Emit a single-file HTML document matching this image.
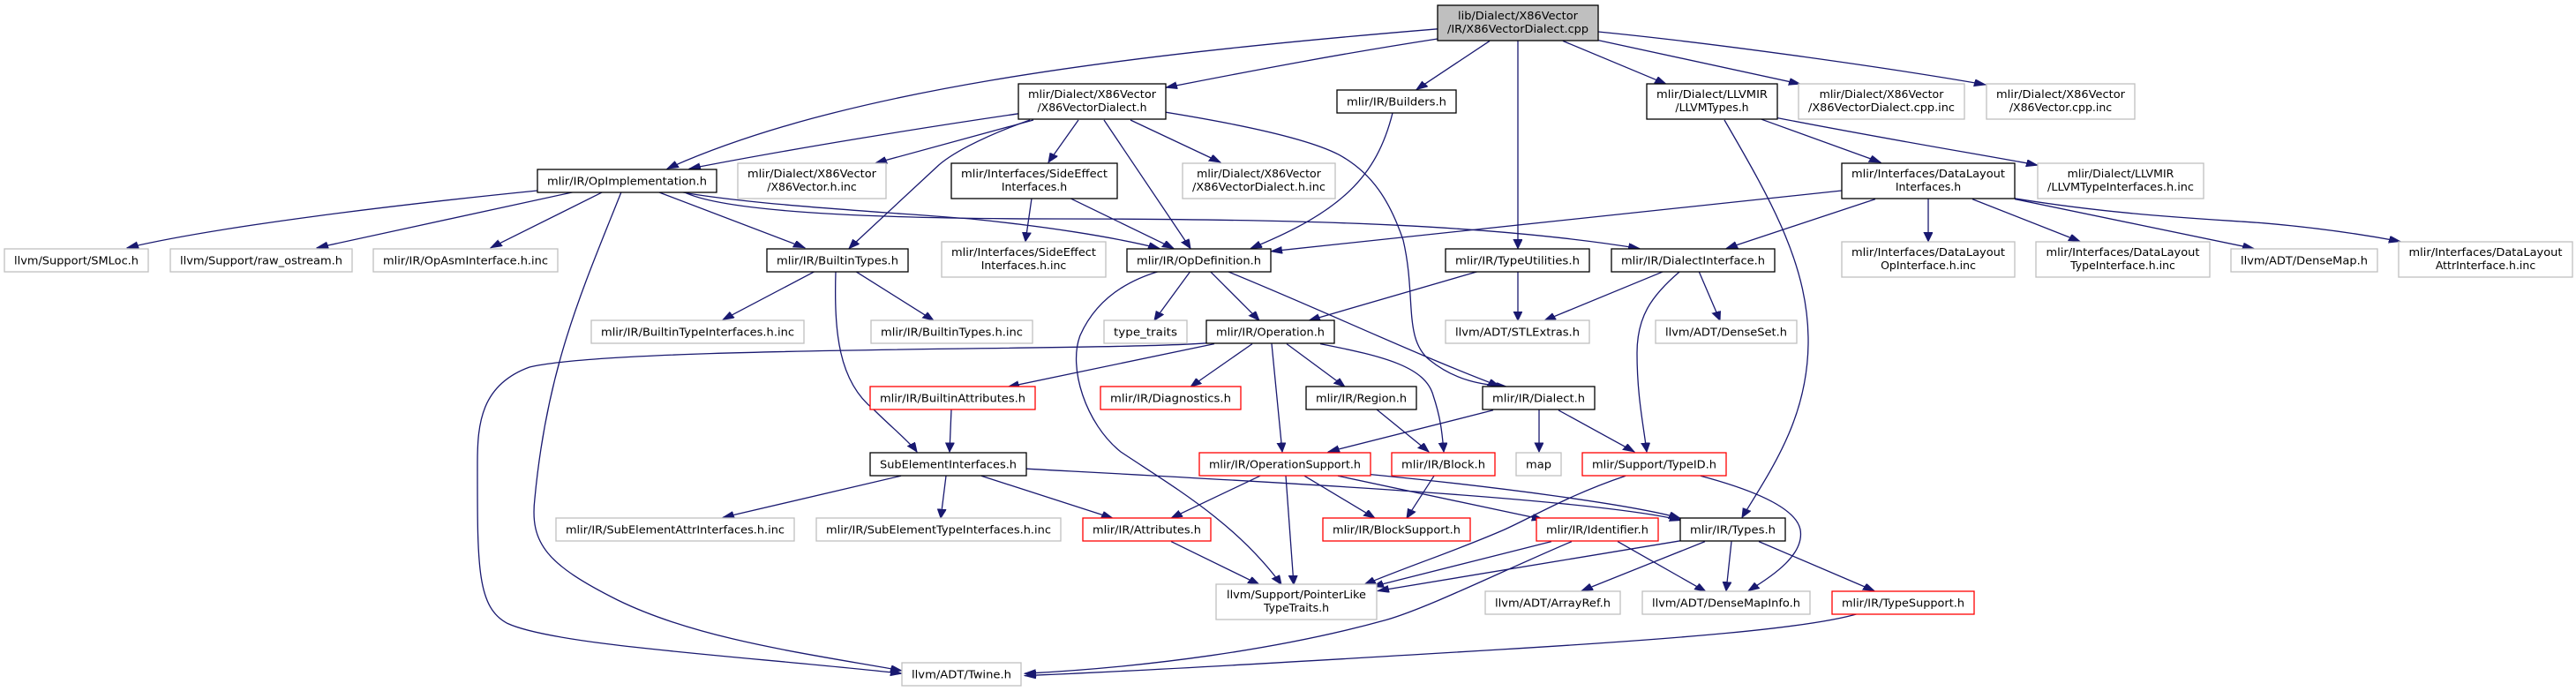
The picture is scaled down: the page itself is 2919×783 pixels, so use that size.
<!DOCTYPE html>
<html><head><meta charset="utf-8"><style>
html,body{margin:0;padding:0;background:#fff;overflow:hidden;}
svg{display:block;}
text{font-family:"DejaVu Sans","Liberation Sans",sans-serif;font-size:12.5px;fill:#000;text-anchor:middle;}
.e path{fill:none;stroke:#191970;stroke-width:1.3;marker-end:url(#a);vector-effect:non-scaling-stroke;}
.k{fill:#fff;stroke:#000;stroke-width:1.3;}
.g{fill:#fff;stroke:#bfbfbf;stroke-width:1.3;}
.r{fill:#fff;stroke:#ff0000;stroke-width:1.3;}
</style></head><body>
<svg width="2919" height="783" viewBox="0 0 2919 783" xmlns="http://www.w3.org/2000/svg">
<defs><marker id="a" markerUnits="userSpaceOnUse" markerWidth="14" markerHeight="12" refX="13" refY="5" orient="auto"><path d="M0,0 L13,5 L0,10 z" fill="#191970" stroke="#191970"/></marker></defs>
<g class="e" transform="scale(1,0.8)">
<path d="M1629,41 C1250,80 950,130 756,239"/>
<path d="M1629,55 C1500,80 1400,105 1321,124"/>
<path d="M1688,58 L1605,127"/>
<path d="M1720,57 L1720,352"/>
<path d="M1771,58 L1888,119"/>
<path d="M1811,57 L2040,119"/>
<path d="M1811,45 C1950,62 2150,98 2250,120"/>
<path d="M1154,161 C1050,180 900,210 781,239"/>
<path d="M1171,170 L992,231"/>
<path d="M1167,170 C1110,195 1075,220 1061,237 C1020,285 985,325 962,352"/>
<path d="M1222,170 L1188,230"/>
<path d="M1251,170 L1349,352"/>
<path d="M1281,170 L1383,230"/>
<path d="M1321,159 C1400,175 1480,195 1517,219 C1555,245 1575,285 1590,340 C1605,420 1590,480 1620,510 C1650,540 1680,545 1708,548"/>
<path d="M609,270 C450,290 250,320 144,351"/>
<path d="M650,272 L359,351"/>
<path d="M683,272 L556,351"/>
<path d="M704,272 C660,410 620,520 606,706 C600,770 620,800 700,850 C790,905 910,925 1022,950"/>
<path d="M746,272 L912,351"/>
<path d="M772,272 C850,290 1000,300 1100,310 C1180,320 1260,335 1314,352"/>
<path d="M775,272 C820,300 980,310 1200,310 C1500,310 1700,320 1858,352"/>
<path d="M924,384 L819,453"/>
<path d="M969,384 L1058,454"/>
<path d="M947,384 C945,470 950,540 990,580 C1010,605 1030,625 1039,640"/>
<path d="M1169,281 L1162,342"/>
<path d="M1213,281 L1330,352"/>
<path d="M1578,160 C1560,250 1520,300 1417,352"/>
<path d="M1996,169 L2131,230"/>
<path d="M2014,167 C2150,200 2250,220 2309,234"/>
<path d="M1954,170 C2010,290 2050,380 2049,487 C2048,590 2010,660 1974,733"/>
<path d="M2087,270 L1440,356"/>
<path d="M2125,282 L1956,352"/>
<path d="M2185,281 L2185,342"/>
<path d="M2235,282 L2357,342"/>
<path d="M2283,282 L2554,352"/>
<path d="M2283,281 C2400,305 2500,310 2565,316 C2640,324 2690,335 2720,342"/>
<path d="M1349,384 L1308,454"/>
<path d="M1371,384 L1427,454"/>
<path d="M1390,384 C1500,440 1600,500 1699,547"/>
<path d="M1314,384 C1270,400 1240,430 1224,475 C1210,520 1230,600 1270,640 C1330,690 1400,740 1452,828"/>
<path d="M1676,384 L1483,454"/>
<path d="M1720,384 L1720,454"/>
<path d="M1886,384 L1750,454"/>
<path d="M1925,384 L1949,454"/>
<path d="M1904,384 C1870,420 1855,450 1855,500 C1855,560 1862,600 1866,640"/>
<path d="M1367,486 C1250,497 700,490 600,520 C545,545 541,600 541,656 C541,800 540,860 575,883 C630,915 850,930 1022,954"/>
<path d="M1376,487 L1142,548"/>
<path d="M1419,487 L1349,548"/>
<path d="M1458,487 L1524,548"/>
<path d="M1496,487 C1570,505 1615,520 1624,560 C1632,590 1634,610 1636,640"/>
<path d="M1441,487 L1453,640"/>
<path d="M1078,580 L1076,640"/>
<path d="M1560,580 L1619,640"/>
<path d="M1692,581 L1505,640"/>
<path d="M1744,580 L1744,640"/>
<path d="M1766,581 L1852,640"/>
<path d="M1021,674 L819,733"/>
<path d="M1072,674 L1066,734"/>
<path d="M1112,674 L1261,734"/>
<path d="M1163,664 C1400,680 1800,705 1905,737"/>
<path d="M1428,674 L1327,734"/>
<path d="M1457,674 L1466,828"/>
<path d="M1478,674 L1558,734"/>
<path d="M1516,674 L1749,736"/>
<path d="M1553,672 C1700,690 1850,715 1904,734"/>
<path d="M1625,674 L1594,734"/>
<path d="M1842,674 C1780,700 1740,730 1705,750 C1650,780 1600,800 1546,828"/>
<path d="M1927,674 C1990,695 2035,720 2040,750 C2045,785 2010,815 1981,837"/>
<path d="M1327,767 L1427,828"/>
<path d="M1758,767 L1555,831"/>
<path d="M1781,767 C1700,810 1620,860 1571,878 C1450,920 1300,945 1161,954"/>
<path d="M1833,767 L1933,838"/>
<path d="M1904,766 L1561,837"/>
<path d="M1932,767 L1792,837"/>
<path d="M1962,767 L1956,837"/>
<path d="M1993,767 L2124,837"/>
<path d="M2106,869 C2050,890 1900,905 1700,920 C1500,935 1300,950 1161,957"/>
</g>

<rect x="1629" y="6" width="182" height="40" fill="#bfbfbf" stroke="#000" stroke-width="1.3"/>
<text x="1720" y="22" textLength="136" lengthAdjust="spacingAndGlyphs">lib/Dialect/X86Vector</text>
<text x="1720" y="37" textLength="160" lengthAdjust="spacingAndGlyphs">/IR/X86VectorDialect.cpp</text>

<rect class="k" x="1154" y="95" width="167" height="40"/>
<text x="1237.5" y="111" textLength="145" lengthAdjust="spacingAndGlyphs">mlir/Dialect/X86Vector</text>
<text x="1237.5" y="126">/X86VectorDialect.h</text>

<rect class="k" x="1515" y="102" width="135" height="26"/>
<text x="1582.5" y="119.5" textLength="113" lengthAdjust="spacingAndGlyphs">mlir/IR/Builders.h</text>

<rect class="k" x="1866" y="95" width="148" height="40"/>
<text x="1940" y="111" textLength="126" lengthAdjust="spacingAndGlyphs">mlir/Dialect/LLVMIR</text>
<text x="1940" y="126">/LLVMTypes.h</text>

<rect class="g" x="2038" y="95" width="188" height="40"/>
<text x="2132" y="111">mlir/Dialect/X86Vector</text>
<text x="2132" y="126" textLength="166" lengthAdjust="spacingAndGlyphs">/X86VectorDialect.cpp.inc</text>

<rect class="g" x="2251" y="95" width="168" height="40"/>
<text x="2335" y="111" textLength="146" lengthAdjust="spacingAndGlyphs">mlir/Dialect/X86Vector</text>
<text x="2335" y="126">/X86Vector.cpp.inc</text>

<rect class="k" x="609" y="192" width="203" height="26"/>
<text x="710.5" y="209.5" textLength="181" lengthAdjust="spacingAndGlyphs">mlir/IR/OpImplementation.h</text>

<rect class="g" x="836" y="185" width="168" height="40"/>
<text x="920" y="201" textLength="146" lengthAdjust="spacingAndGlyphs">mlir/Dialect/X86Vector</text>
<text x="920" y="216">/X86Vector.h.inc</text>

<rect class="k" x="1078" y="185" width="188" height="40"/>
<text x="1172" y="201" textLength="166" lengthAdjust="spacingAndGlyphs">mlir/Interfaces/SideEffect</text>
<text x="1172" y="216">Interfaces.h</text>

<rect class="g" x="1340" y="185" width="173" height="40"/>
<text x="1426.5" y="201">mlir/Dialect/X86Vector</text>
<text x="1426.5" y="216" textLength="151" lengthAdjust="spacingAndGlyphs">/X86VectorDialect.h.inc</text>

<rect class="k" x="2087" y="185" width="196" height="40"/>
<text x="2185" y="201" textLength="174" lengthAdjust="spacingAndGlyphs">mlir/Interfaces/DataLayout</text>
<text x="2185" y="216">Interfaces.h</text>

<rect class="g" x="2309" y="185" width="188" height="40"/>
<text x="2403" y="201">mlir/Dialect/LLVMIR</text>
<text x="2403" y="216" textLength="166" lengthAdjust="spacingAndGlyphs">/LLVMTypeInterfaces.h.inc</text>

<rect class="g" x="5" y="282" width="163" height="26"/>
<text x="86.5" y="299.5" textLength="141" lengthAdjust="spacingAndGlyphs">llvm/Support/SMLoc.h</text>

<rect class="g" x="193" y="282" width="206" height="26"/>
<text x="296" y="299.5" textLength="184" lengthAdjust="spacingAndGlyphs">llvm/Support/raw_ostream.h</text>

<rect class="g" x="423" y="282" width="209" height="26"/>
<text x="527.5" y="299.5" textLength="187" lengthAdjust="spacingAndGlyphs">mlir/IR/OpAsmInterface.h.inc</text>

<rect class="k" x="869" y="282" width="160" height="26"/>
<text x="949" y="299.5" textLength="138" lengthAdjust="spacingAndGlyphs">mlir/IR/BuiltinTypes.h</text>

<rect class="g" x="1067" y="274" width="186" height="40"/>
<text x="1160" y="290" textLength="164" lengthAdjust="spacingAndGlyphs">mlir/Interfaces/SideEffect</text>
<text x="1160" y="305">Interfaces.h.inc</text>

<rect class="k" x="1277" y="282" width="163" height="26"/>
<text x="1358.5" y="299.5" textLength="141" lengthAdjust="spacingAndGlyphs">mlir/IR/OpDefinition.h</text>

<rect class="k" x="1638" y="282" width="163" height="26"/>
<text x="1719.5" y="299.5" textLength="141" lengthAdjust="spacingAndGlyphs">mlir/IR/TypeUtilities.h</text>

<rect class="k" x="1826" y="282" width="185" height="26"/>
<text x="1918.5" y="299.5" textLength="163" lengthAdjust="spacingAndGlyphs">mlir/IR/DialectInterface.h</text>

<rect class="g" x="2087" y="274" width="196" height="40"/>
<text x="2185" y="290" textLength="174" lengthAdjust="spacingAndGlyphs">mlir/Interfaces/DataLayout</text>
<text x="2185" y="305">OpInterface.h.inc</text>

<rect class="g" x="2307" y="274" width="197" height="40"/>
<text x="2405.5" y="290" textLength="174" lengthAdjust="spacingAndGlyphs">mlir/Interfaces/DataLayout</text>
<text x="2405.5" y="305">TypeInterface.h.inc</text>

<rect class="g" x="2528" y="282" width="166" height="26"/>
<text x="2611" y="299.5" textLength="144" lengthAdjust="spacingAndGlyphs">llvm/ADT/DenseMap.h</text>

<rect class="g" x="2718" y="274" width="197" height="40"/>
<text x="2816.5" y="290" textLength="174" lengthAdjust="spacingAndGlyphs">mlir/Interfaces/DataLayout</text>
<text x="2816.5" y="305">AttrInterface.h.inc</text>

<rect class="g" x="670" y="363" width="241" height="26"/>
<text x="790.5" y="380.5" textLength="219" lengthAdjust="spacingAndGlyphs">mlir/IR/BuiltinTypeInterfaces.h.inc</text>

<rect class="g" x="987" y="363" width="183" height="26"/>
<text x="1078.5" y="380.5" textLength="161" lengthAdjust="spacingAndGlyphs">mlir/IR/BuiltinTypes.h.inc</text>

<rect class="g" x="1251" y="363" width="94" height="26"/>
<text x="1298" y="380.5" textLength="72" lengthAdjust="spacingAndGlyphs">type_traits</text>

<rect class="k" x="1367" y="363" width="145" height="26"/>
<text x="1439.5" y="380.5" textLength="123" lengthAdjust="spacingAndGlyphs">mlir/IR/Operation.h</text>

<rect class="g" x="1638" y="363" width="163" height="26"/>
<text x="1719.5" y="380.5" textLength="141" lengthAdjust="spacingAndGlyphs">llvm/ADT/STLExtras.h</text>

<rect class="g" x="1876" y="363" width="160" height="26"/>
<text x="1956" y="380.5" textLength="138" lengthAdjust="spacingAndGlyphs">llvm/ADT/DenseSet.h</text>

<rect class="r" x="986" y="438" width="187" height="26"/>
<text x="1079.5" y="455.5" textLength="165" lengthAdjust="spacingAndGlyphs">mlir/IR/BuiltinAttributes.h</text>

<rect class="r" x="1247" y="438" width="159" height="26"/>
<text x="1326.5" y="455.5" textLength="137" lengthAdjust="spacingAndGlyphs">mlir/IR/Diagnostics.h</text>

<rect class="k" x="1480" y="438" width="125" height="26"/>
<text x="1542.5" y="455.5" textLength="103" lengthAdjust="spacingAndGlyphs">mlir/IR/Region.h</text>

<rect class="k" x="1680" y="438" width="127" height="26"/>
<text x="1743.5" y="455.5" textLength="105" lengthAdjust="spacingAndGlyphs">mlir/IR/Dialect.h</text>

<rect class="k" x="986" y="513" width="177" height="26"/>
<text x="1074.5" y="530.5" textLength="155" lengthAdjust="spacingAndGlyphs">SubElementInterfaces.h</text>

<rect class="r" x="1359" y="513" width="194" height="26"/>
<text x="1456" y="530.5" textLength="172" lengthAdjust="spacingAndGlyphs">mlir/IR/OperationSupport.h</text>

<rect class="r" x="1577" y="513" width="117" height="26"/>
<text x="1635.5" y="530.5" textLength="95" lengthAdjust="spacingAndGlyphs">mlir/IR/Block.h</text>

<rect class="g" x="1718" y="513" width="51" height="26"/>
<text x="1743.5" y="530.5" textLength="29" lengthAdjust="spacingAndGlyphs">map</text>

<rect class="r" x="1793" y="513" width="163" height="26"/>
<text x="1874.5" y="530.5" textLength="141" lengthAdjust="spacingAndGlyphs">mlir/Support/TypeID.h</text>

<rect class="g" x="630" y="587" width="270" height="26"/>
<text x="765" y="604.5" textLength="248" lengthAdjust="spacingAndGlyphs">mlir/IR/SubElementAttrInterfaces.h.inc</text>

<rect class="g" x="925" y="587" width="277" height="26"/>
<text x="1063.5" y="604.5" textLength="255" lengthAdjust="spacingAndGlyphs">mlir/IR/SubElementTypeInterfaces.h.inc</text>

<rect class="r" x="1227" y="587" width="145" height="26"/>
<text x="1299.5" y="604.5" textLength="123" lengthAdjust="spacingAndGlyphs">mlir/IR/Attributes.h</text>

<rect class="r" x="1499" y="587" width="167" height="26"/>
<text x="1582.5" y="604.5" textLength="145" lengthAdjust="spacingAndGlyphs">mlir/IR/BlockSupport.h</text>

<rect class="r" x="1741" y="587" width="138" height="26"/>
<text x="1810" y="604.5" textLength="116" lengthAdjust="spacingAndGlyphs">mlir/IR/Identifier.h</text>

<rect class="k" x="1904" y="587" width="119" height="26"/>
<text x="1963.5" y="604.5" textLength="97" lengthAdjust="spacingAndGlyphs">mlir/IR/Types.h</text>

<rect class="g" x="1378" y="662" width="182" height="40"/>
<text x="1469" y="678" textLength="158" lengthAdjust="spacingAndGlyphs">llvm/Support/PointerLike</text>
<text x="1469" y="693">TypeTraits.h</text>

<rect class="g" x="1683" y="670" width="153" height="26"/>
<text x="1759.5" y="687.5" textLength="131" lengthAdjust="spacingAndGlyphs">llvm/ADT/ArrayRef.h</text>

<rect class="g" x="1861" y="670" width="190" height="26"/>
<text x="1956" y="687.5" textLength="168" lengthAdjust="spacingAndGlyphs">llvm/ADT/DenseMapInfo.h</text>

<rect class="r" x="2076" y="670" width="161" height="26"/>
<text x="2156.5" y="687.5" textLength="139" lengthAdjust="spacingAndGlyphs">mlir/IR/TypeSupport.h</text>

<rect class="g" x="1022" y="751" width="135" height="26"/>
<text x="1089.5" y="768.5" textLength="113" lengthAdjust="spacingAndGlyphs">llvm/ADT/Twine.h</text>
</svg>
</body></html>
